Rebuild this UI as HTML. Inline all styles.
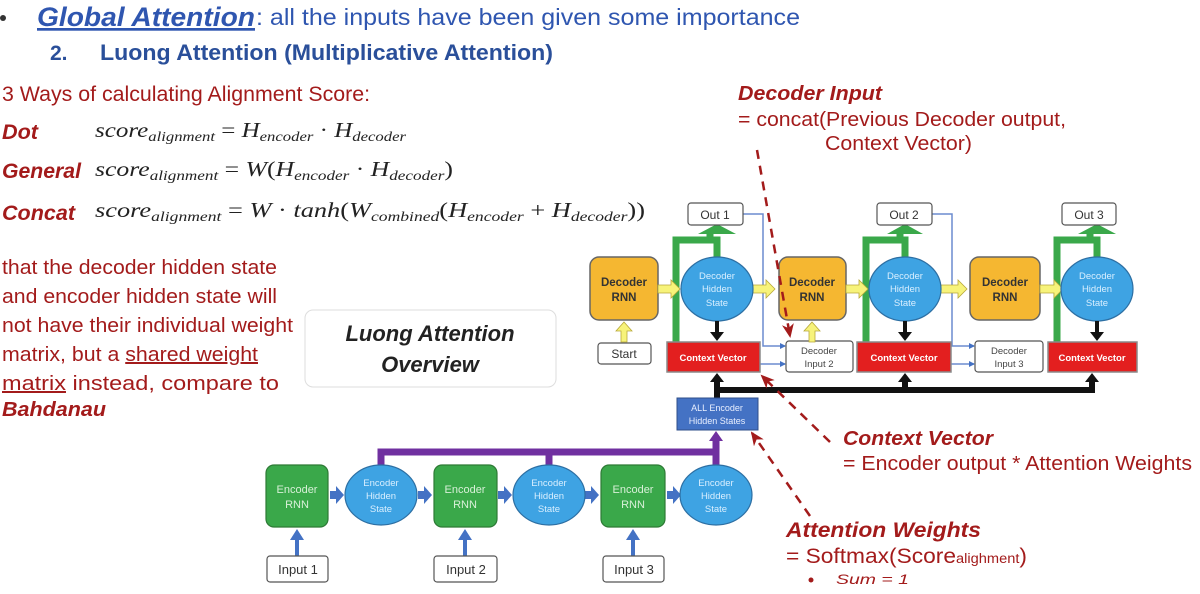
<!DOCTYPE html>
<html><head><meta charset="utf-8"><style>
html,body{margin:0;padding:0;background:#fff;}
svg{display:block;}
.s{font-family:"Liberation Sans",sans-serif;}
.m{font-family:"Liberation Serif",serif;font-style:italic;}
</style></head><body>
<svg width="1200" height="594" viewBox="0 0 1200 594" xmlns="http://www.w3.org/2000/svg">
<defs>
<marker id="ab" markerWidth="6" markerHeight="6" refX="5" refY="3" orient="auto" markerUnits="userSpaceOnUse"><path d="M0,0L6,3L0,6z" fill="#4472c4"/></marker>
<marker id="ar" markerWidth="14" markerHeight="12" refX="12" refY="6" orient="auto" markerUnits="userSpaceOnUse"><path d="M0,0L14,6L0,12L4,6z" fill="#a31b1b"/></marker>
</defs>
<!-- header text -->
<circle cx="3" cy="18" r="3" fill="#333"/>
<text x="37" y="26" class="s" font-size="27" font-weight="bold" font-style="italic" text-decoration="underline" fill="#2f56b0" textLength="218" lengthAdjust="spacingAndGlyphs">Global Attention</text>
<text x="256" y="25" class="s" font-size="23" fill="#2f56b0" textLength="544" lengthAdjust="spacingAndGlyphs">: all the inputs have been given some importance</text>
<text x="50" y="60" class="s" font-size="21" font-weight="bold" fill="#2a4f9a">2.</text>
<text x="100" y="60" class="s" font-size="22" font-weight="bold" fill="#2a4f9a" textLength="453" lengthAdjust="spacingAndGlyphs">Luong Attention (Multiplicative Attention)</text>
<text x="2" y="101" class="s" font-size="21" fill="#a31b1b" textLength="368" lengthAdjust="spacingAndGlyphs">3 Ways of calculating Alignment Score:</text>
<g class="s" font-size="21" font-weight="bold" font-style="italic" fill="#a31b1b">
<text x="2" y="139" textLength="36" lengthAdjust="spacingAndGlyphs">Dot</text><text x="2" y="178" textLength="79" lengthAdjust="spacingAndGlyphs">General</text><text x="2" y="220" textLength="73" lengthAdjust="spacingAndGlyphs">Concat</text></g>
<g class="m" font-size="21" fill="#222">
<text x="95" y="137" textLength="311" lengthAdjust="spacingAndGlyphs">score<tspan font-size="14" dy="4">alignment</tspan><tspan dy="-4" font-style="normal"> = </tspan>H<tspan font-size="14" dy="4">encoder</tspan><tspan dy="-4" font-style="normal"> · </tspan>H<tspan font-size="14" dy="4">decoder</tspan></text>
<text x="95" y="176" textLength="358" lengthAdjust="spacingAndGlyphs">score<tspan font-size="14" dy="4">alignment</tspan><tspan dy="-4" font-style="normal"> = </tspan>W<tspan font-style="normal">(</tspan>H<tspan font-size="14" dy="4">encoder</tspan><tspan dy="-4" font-style="normal"> · </tspan>H<tspan font-size="14" dy="4">decoder</tspan><tspan dy="-4" font-style="normal">)</tspan></text>
<text x="95" y="217" textLength="550" lengthAdjust="spacingAndGlyphs">score<tspan font-size="14" dy="4">alignment</tspan><tspan dy="-4" font-style="normal"> = </tspan>W<tspan font-style="normal"> · </tspan>tanh<tspan font-style="normal">(</tspan>W<tspan font-size="14" dy="4">combined</tspan><tspan dy="-4" font-style="normal">(</tspan>H<tspan font-size="14" dy="4">encoder</tspan><tspan dy="-4" font-style="normal"> + </tspan>H<tspan font-size="14" dy="4">decoder</tspan><tspan dy="-4" font-style="normal">))</tspan></text>
</g>
<g class="s" font-size="20" fill="#a31b1b">
<text x="2" y="274" textLength="275" lengthAdjust="spacingAndGlyphs">that the decoder hidden state</text>
<text x="2" y="303" textLength="275" lengthAdjust="spacingAndGlyphs">and encoder hidden state will</text>
<text x="2" y="332" textLength="291" lengthAdjust="spacingAndGlyphs">not have their individual weight</text>
<text x="2" y="361" textLength="256" lengthAdjust="spacingAndGlyphs">matrix, but a <tspan text-decoration="underline">shared weight</tspan></text>
<text x="2" y="390" textLength="277" lengthAdjust="spacingAndGlyphs"><tspan text-decoration="underline">matrix</tspan> instead, compare to</text>
<text x="2" y="416" font-weight="bold" font-style="italic" textLength="104" lengthAdjust="spacingAndGlyphs">Bahdanau</text>
</g>
<rect x="305" y="310" width="251" height="77" rx="8" fill="#fff" stroke="#ddd"/>
<text x="430" y="341" text-anchor="middle" class="s" font-size="22" font-weight="bold" font-style="italic" fill="#222">Luong Attention</text>
<text x="430" y="372" text-anchor="middle" class="s" font-size="22" font-weight="bold" font-style="italic" fill="#222">Overview</text>

<!-- right labels -->
<g class="s" fill="#a31b1b">
<text x="738" y="100" font-size="20" font-weight="bold" font-style="italic" textLength="144" lengthAdjust="spacingAndGlyphs">Decoder Input</text>
<text x="738" y="126" font-size="20" textLength="328" lengthAdjust="spacingAndGlyphs">= concat(Previous Decoder output,</text>
<text x="825" y="150" font-size="20" textLength="147" lengthAdjust="spacingAndGlyphs">Context Vector)</text>
<text x="843" y="445" font-size="20" font-weight="bold" font-style="italic" textLength="150" lengthAdjust="spacingAndGlyphs">Context Vector</text>
<text x="843" y="470" font-size="20" textLength="349" lengthAdjust="spacingAndGlyphs">= Encoder output * Attention Weights</text>
<text x="786" y="537" font-size="21" font-weight="bold" font-style="italic" textLength="195" lengthAdjust="spacingAndGlyphs">Attention Weights</text>
<text x="786" y="563" font-size="21" textLength="241" lengthAdjust="spacingAndGlyphs">= Softmax(Score<tspan font-size="13.5">alighment</tspan>)</text>
<circle cx="811" cy="580" r="2.5"/>
<text x="836" y="584" font-size="14" font-style="italic" textLength="73" lengthAdjust="spacingAndGlyphs">Sum = 1</text>
</g>

<!-- decoder diagram -->
<g class="s">
<g fill="none" stroke="#3aa84a" stroke-width="7">
<path d="M676,342V240H710V232"/><path d="M866,342V240H900V232"/><path d="M1057,342V240H1090V232"/>
</g>
<g fill="#3aa84a"><path d="M698,234L717,224L736,234z"/><path d="M887,234L905,224L923,234z"/><path d="M1078,234L1097,224L1116,234z"/></g>
<g fill="none" stroke="#3aa84a" stroke-width="7"><path d="M710,240H717V257"/><path d="M900,240H905V257"/><path d="M1090,240H1097V257"/></g>
<g fill="none" stroke="#6b8ccf" stroke-width="1.5" marker-end="url(#ab)">
<path d="M743,214H763V346H785"/><path d="M760,364H785"/>
<path d="M932,214H952V346H974"/><path d="M951,364H974"/>
</g>
<g fill="#fff" stroke="#555" stroke-width="1.2">
<rect x="688" y="203" width="55" height="22" rx="3"/><rect x="877" y="203" width="55" height="22" rx="3"/><rect x="1062" y="203" width="54" height="22" rx="3"/>
<rect x="598" y="343" width="53" height="21" rx="3"/>
<rect x="786" y="341" width="67" height="31" rx="3"/><rect x="975" y="341" width="68" height="31" rx="3"/>
</g>
<g font-size="12" fill="#333" text-anchor="middle">
<text x="715" y="219">Out 1</text><text x="904" y="219">Out 2</text><text x="1089" y="219">Out 3</text>
<text x="624" y="358">Start</text>
</g>
<g font-size="9.5" fill="#444" text-anchor="middle">
<text x="819" y="354">Decoder</text><text x="819" y="367">Input 2</text>
<text x="1009" y="354">Decoder</text><text x="1009" y="367">Input 3</text>
</g>
<g fill="#f5b731" stroke="#666" stroke-width="1.5">
<rect x="590" y="257" width="68" height="63" rx="9"/><rect x="779" y="257" width="67" height="63" rx="9"/><rect x="970" y="257" width="70" height="63" rx="9"/>
</g>
<g font-size="11.5" font-weight="bold" fill="#333" text-anchor="middle">
<text x="624" y="286">Decoder</text><text x="624" y="301">RNN</text>
<text x="812" y="286">Decoder</text><text x="812" y="301">RNN</text>
<text x="1005" y="286">Decoder</text><text x="1005" y="301">RNN</text>
</g>
<g fill="#f7f37a" stroke="#b8a83a" stroke-width="0.8">
<path d="M658,285h13v-5l9,9l-9,9v-5h-13z"/>
<path d="M753,285h13v-5l9,9l-9,9v-5h-13z"/>
<path d="M846,285h13v-5l9,9l-9,9v-5h-13z"/>
<path d="M941,285h17v-5l9,9l-9,9v-5h-17z"/>
<path d="M1040,285h14v-5l9,9l-9,9v-5h-14z"/>
<path d="M621,342v-11h-5l8,-9l8,9h-5v11z"/>
<path d="M809,342v-11h-5l8,-9l8,9h-5v11z"/>
</g>
<g fill="#3ea3e3" stroke="#2d6fa3" stroke-width="1.2">
<ellipse cx="717" cy="289" rx="36" ry="32"/><ellipse cx="905" cy="289" rx="36" ry="32"/><ellipse cx="1097" cy="289" rx="36" ry="32"/>
</g>
<g font-size="9.5" fill="#d9efff" text-anchor="middle">
<text x="717" y="279">Decoder</text><text x="717" y="292">Hidden</text><text x="717" y="306">State</text>
<text x="905" y="279">Decoder</text><text x="905" y="292">Hidden</text><text x="905" y="306">State</text>
<text x="1097" y="279">Decoder</text><text x="1097" y="292">Hidden</text><text x="1097" y="306">State</text>
</g>
<g fill="#111">
<rect x="715" y="321" width="4" height="12"/><path d="M710,332h14l-7,9z"/>
<rect x="903" y="321" width="4" height="12"/><path d="M898,332h14l-7,9z"/>
<rect x="1095" y="321" width="4" height="12"/><path d="M1090,332h14l-7,9z"/>
</g>
<g fill="#e31f1f" stroke="#8a8a8a" stroke-width="1.5">
<rect x="667" y="342" width="93" height="30"/><rect x="857" y="342" width="94" height="30"/><rect x="1048" y="342" width="89" height="30"/>
</g>
<g font-size="9.5" font-weight="bold" fill="#fff" text-anchor="middle">
<text x="713" y="361">Context Vector</text><text x="904" y="361">Context Vector</text><text x="1092" y="361">Context Vector</text>
</g>
<g fill="#111">
<rect x="714" y="387" width="381" height="6"/>
<rect x="714" y="378" width="6" height="20"/><path d="M710,382h14l-7,-9z"/>
<rect x="902" y="378" width="6" height="10"/><path d="M898,382h14l-7,-9z"/>
<rect x="1089" y="378" width="6" height="10"/><path d="M1085,382h14l-7,-9z"/>
</g>
<rect x="677" y="398" width="81" height="32" fill="#4472c4" stroke="#2f4f8a"/>
<text x="717" y="411" font-size="9" fill="#e8efff" text-anchor="middle">ALL Encoder</text>
<text x="717" y="424" font-size="9" fill="#e8efff" text-anchor="middle">Hidden States</text>

<g fill="none" stroke="#7030a0" stroke-width="7">
<path d="M381,466V452H716V466"/><path d="M549,466V452"/><path d="M716,452V440"/>
</g>
<path d="M709,441l7,-10l7,10z" fill="#7030a0"/>
<g fill="#3aa84a" stroke="#2d7a35" stroke-width="1.2">
<rect x="266" y="465" width="62" height="62" rx="8"/><rect x="434" y="465" width="63" height="62" rx="8"/><rect x="601" y="465" width="64" height="62" rx="8"/>
</g>
<g font-size="11" fill="#d8f0d8" text-anchor="middle">
<text x="297" y="493">Encoder</text><text x="297" y="508">RNN</text>
<text x="465" y="493">Encoder</text><text x="465" y="508">RNN</text>
<text x="633" y="493">Encoder</text><text x="633" y="508">RNN</text>
</g>
<g fill="#4472c4">
<path d="M330,491h6v-5l8,9l-8,9v-5h-6z"/><path d="M418,491h6v-5l8,9l-8,9v-5h-6z"/>
<path d="M498,491h6v-5l8,9l-8,9v-5h-6z"/><path d="M585,491h6v-5l8,9l-8,9v-5h-6z"/>
<path d="M667,491h6v-5l8,9l-8,9v-5h-6z"/>
<rect x="295" y="538" width="4" height="18"/><path d="M290,540l7,-11l7,11z"/>
<rect x="463" y="538" width="4" height="18"/><path d="M458,540l7,-11l7,11z"/>
<rect x="631" y="538" width="4" height="18"/><path d="M626,540l7,-11l7,11z"/>
</g>
<g fill="#3ea3e3" stroke="#2d6fa3" stroke-width="1.2">
<ellipse cx="381" cy="495" rx="36" ry="30"/><ellipse cx="549" cy="495" rx="36" ry="30"/><ellipse cx="716" cy="495" rx="36" ry="30"/>
</g>
<g font-size="9.5" fill="#d9efff" text-anchor="middle">
<text x="381" y="486">Encoder</text><text x="381" y="499">Hidden</text><text x="381" y="512">State</text>
<text x="549" y="486">Encoder</text><text x="549" y="499">Hidden</text><text x="549" y="512">State</text>
<text x="716" y="486">Encoder</text><text x="716" y="499">Hidden</text><text x="716" y="512">State</text>
</g>
<g fill="#fff" stroke="#555" stroke-width="1.2">
<rect x="267" y="556" width="61" height="26" rx="3"/><rect x="434" y="556" width="63" height="26" rx="3"/><rect x="603" y="556" width="61" height="26" rx="3"/>
</g>
<g font-size="13" fill="#333" text-anchor="middle">
<text x="298" y="574">Input 1</text><text x="466" y="574">Input 2</text><text x="634" y="574">Input 3</text>
</g>
</g>
<g fill="none" stroke="#a31b1b" stroke-width="2.5" stroke-dasharray="9,7" marker-end="url(#ar)">
<path d="M757,150L790,336"/>
<path d="M830,442L762,376"/>
<path d="M810,516L752,433"/>
</g>
</svg>
</body></html>
